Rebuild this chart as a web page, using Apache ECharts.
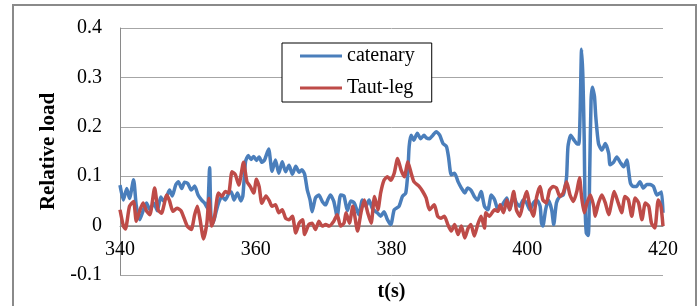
<!DOCTYPE html>
<html>
<head>
<meta charset="utf-8">
<script src="https://cdn.jsdelivr.net/npm/echarts@6/dist/echarts.min.js"></script>
<style>
  html, body { margin: 0; padding: 0; background: #fff; }
  #chart { width: 699px; height: 306px; }
</style>
</head>
<body>
<div id="chart"></div>
<script>
// series names
const seriesNames = ["catenary", "Taut-leg"];

// catenary: [t(s), relative load]
const catenary = [
	[340.0, 0.082], [340.5, 0.052], [341.0, 0.075], [341.4, 0.055], [342.0, 0.093],
	[342.4, 0.040], [342.9, 0.012], [343.4, 0.030], [343.9, 0.046], [344.4, 0.032],
	[345.0, 0.045], [345.5, 0.030], [346.0, 0.058], [346.4, 0.050], [346.9, 0.060],
	[347.3, 0.072], [347.7, 0.060], [348.2, 0.082], [348.6, 0.089], [349.1, 0.075],
	[349.5, 0.088], [350.0, 0.085], [350.5, 0.072], [351.0, 0.080], [351.5, 0.062],
	[352.0, 0.052], [352.5, 0.045], [352.9, 0.035], [353.2, 0.117], [353.4, 0.020],
	[353.7, 0.005], [354.1, 0.025], [354.5, 0.045], [355.0, 0.059], [355.5, 0.052],
	[356.0, 0.064], [356.4, 0.068], [356.8, 0.052], [357.3, 0.066], [357.8, 0.050],
	[358.1, 0.060], [358.5, 0.130], [358.9, 0.142], [359.3, 0.134], [359.7, 0.140],
	[360.1, 0.132], [360.5, 0.139], [360.9, 0.128], [361.3, 0.133], [361.9, 0.155],
	[362.4, 0.110], [362.9, 0.133], [363.4, 0.106], [363.9, 0.129], [364.4, 0.109],
	[364.9, 0.122], [365.4, 0.104], [365.9, 0.120], [366.4, 0.108], [366.8, 0.113],
	[367.2, 0.104], [367.6, 0.072], [368.0, 0.052], [368.3, 0.028], [368.8, 0.056],
	[369.3, 0.062], [369.8, 0.049], [370.3, 0.042], [370.6, 0.052], [371.0, 0.062],
	[371.5, 0.049], [372.0, 0.018], [372.5, 0.062], [373.0, 0.060], [373.5, 0.030],
	[374.0, 0.050], [374.5, 0.046], [375.2, 0.022], [375.7, 0.052], [376.2, 0.039],
	[376.7, 0.052], [377.2, 0.034], [377.9, 0.026], [378.4, 0.019], [378.9, 0.028],
	[379.4, 0.012], [379.9, 0.002], [380.4, 0.032], [381.1, 0.039], [381.6, 0.059],
	[382.1, 0.066], [382.4, 0.106], [382.6, 0.160], [382.9, 0.183], [383.3, 0.173],
	[383.8, 0.187], [384.3, 0.176], [384.8, 0.183], [385.1, 0.178], [385.6, 0.176],
	[386.1, 0.183], [386.6, 0.190], [387.1, 0.183], [387.6, 0.166], [388.1, 0.160],
	[388.4, 0.139], [388.8, 0.103], [389.3, 0.106], [389.8, 0.089], [390.3, 0.076],
	[390.8, 0.066], [391.2, 0.076], [391.7, 0.072], [392.2, 0.059], [392.7, 0.052],
	[393.2, 0.069], [393.7, 0.039], [394.2, 0.032], [394.7, 0.062], [395.2, 0.052],
	[395.7, 0.032], [396.2, 0.039], [397.0, 0.056], [397.4, 0.032], [398.0, 0.059],
	[398.4, 0.046], [398.9, 0.039], [399.4, 0.052], [399.9, 0.046], [400.4, 0.032],
	[400.9, 0.046], [401.4, 0.052], [401.9, 0.039], [402.1, 0.005], [402.3, -0.001],
	[402.7, 0.032], [403.1, 0.052], [403.6, 0.032], [403.9, 0.002], [404.3, 0.046],
	[404.8, 0.059], [405.3, 0.062], [405.5, 0.072], [405.8, 0.099], [406.0, 0.160],
	[406.4, 0.183], [406.9, 0.173], [407.3, 0.166], [407.6, 0.165], [407.8, 0.233],
	[408.0, 0.357], [408.2, 0.300], [408.4, 0.170], [408.5, 0.050], [408.7, -0.015],
	[409.0, -0.020], [409.2, 0.107], [409.4, 0.253], [409.6, 0.280], [409.9, 0.262],
	[410.1, 0.220], [410.5, 0.166], [411.0, 0.153], [411.5, 0.166], [412.0, 0.146],
	[412.2, 0.123], [412.7, 0.128], [413.2, 0.139], [413.7, 0.128], [414.2, 0.119],
	[414.7, 0.133], [414.9, 0.115], [415.2, 0.086], [415.6, 0.079], [416.1, 0.079],
	[416.6, 0.089], [417.1, 0.076], [417.6, 0.083], [418.1, 0.083], [418.6, 0.079],
	[419.1, 0.062], [419.6, 0.066], [419.8, 0.068], [420.0, 0.026]
];

// Taut-leg: [t(s), relative load]
const tautLeg = [
	[340.0, 0.032], [340.5, -0.001], [340.8, -0.007], [341.4, 0.039], [342.0, 0.049],
	[342.4, 0.009], [342.9, 0.030], [343.4, 0.046], [343.9, 0.030], [344.4, 0.022],
	[345.1, 0.076], [345.6, 0.032], [346.1, 0.025], [346.9, 0.062], [347.3, 0.050],
	[347.8, 0.029], [348.4, 0.035], [349.0, 0.030], [349.9, -0.001], [350.5, -0.008],
	[351.0, 0.022], [351.4, 0.039], [351.8, 0.012], [352.3, -0.027], [352.8, 0.005],
	[353.1, 0.055], [353.5, -0.001], [353.9, 0.015], [354.5, 0.066], [355.0, 0.059],
	[355.5, 0.069], [356.0, 0.066], [356.5, 0.109], [357.0, 0.103], [357.5, 0.082],
	[358.2, 0.128], [358.7, 0.089], [359.2, 0.079], [359.7, 0.066], [360.1, 0.094],
	[360.5, 0.079], [360.9, 0.045], [361.5, 0.060], [362.0, 0.050], [362.4, 0.039],
	[362.9, 0.042], [363.4, 0.026], [363.9, 0.032], [364.4, 0.015], [364.9, 0.012],
	[365.4, 0.019], [365.9, -0.015], [366.4, 0.005], [366.9, 0.012], [367.2, -0.018],
	[367.8, 0.002], [368.3, 0.005], [368.8, -0.008], [369.3, 0.009], [369.8, -0.001],
	[370.3, 0.002], [370.8, -0.001], [371.5, 0.009], [372.0, 0.022], [372.5, -0.001],
	[373.0, 0.005], [373.3, 0.026], [373.8, 0.005], [374.3, 0.039], [375.0, -0.011],
	[375.5, 0.026], [376.0, 0.052], [376.5, 0.026], [377.0, 0.005], [377.5, 0.059],
	[378.0, 0.032], [378.4, 0.066], [378.9, 0.092], [379.4, 0.099], [379.9, 0.092],
	[380.4, 0.106], [380.9, 0.136], [381.4, 0.113], [381.9, 0.099], [382.4, 0.129],
	[382.9, 0.106], [383.3, 0.089], [384.1, 0.079], [384.6, 0.069], [385.1, 0.056],
	[385.6, 0.032], [386.3, 0.042], [386.8, 0.019], [387.3, 0.015], [387.8, 0.019],
	[388.3, 0.002], [388.8, -0.011], [389.3, 0.002], [389.8, -0.018], [390.3, -0.001],
	[390.8, -0.025], [391.3, -0.005], [391.7, 0.002], [392.2, -0.021], [392.7, 0.002],
	[393.2, 0.019], [393.7, -0.005], [393.9, 0.026], [394.4, 0.019], [395.2, 0.032],
	[395.7, 0.029], [396.0, 0.042], [396.5, 0.026], [397.0, 0.052], [397.4, 0.032],
	[398.0, 0.069], [398.4, 0.032], [398.9, 0.019], [399.4, 0.046], [399.9, 0.069],
	[400.4, 0.039], [400.9, 0.019], [401.4, 0.059], [401.9, 0.079], [402.3, 0.052],
	[402.8, 0.046], [403.3, 0.072], [403.8, 0.079], [404.3, 0.076], [404.8, 0.059],
	[405.3, 0.066], [405.8, 0.089], [406.3, 0.062], [406.8, 0.049], [407.3, 0.069],
	[407.7, 0.097], [408.0, 0.059], [408.4, 0.026], [408.8, 0.046], [409.3, 0.062],
	[409.8, 0.039], [410.0, 0.019], [410.5, 0.046], [411.0, 0.062], [411.5, 0.046],
	[412.0, 0.022], [412.5, 0.052], [412.8, 0.069], [413.4, 0.046], [413.9, 0.026],
	[414.4, 0.059], [414.9, 0.052], [415.4, 0.019], [415.9, 0.056], [416.4, 0.046],
	[416.9, 0.012], [417.4, 0.046], [417.9, 0.039], [418.3, 0.005], [418.8, -0.005],
	[419.3, 0.052], [419.7, 0.039], [420.0, -0.001]
];

// axis ranges: min, max, interval
const xRange = [340, 420, 20];
const yRange = [-0.1, 0.4, 0.1];

const serif = "Liberation Serif";
const chart = echarts.init(document.getElementById("chart"));

chart.setOption({
	animation: false,
	color: ["#4A7EBB", "#BE4B48"],
	// outer frame of the picture
	graphic: [{
		type: "rect",
		shape: { x: 13, y: 5, width: 683, height: 320 },
		style: { fill: "none", stroke: "#8a8a8a", lineWidth: 2 },
		silent: true
	}],
	// fixed plot box, no auto fitting of labels
	grid: { left: 120, right: 36, top: 28, bottom: 31, outerBoundsMode: "none", containLabel: false },
	legend: {
		orient: "vertical",
		left: 282,
		top: 43,
		padding: [3, 17, 4, 18],
		itemGap: 12,
		itemWidth: 42,
		itemHeight: 20,
		backgroundColor: "#fff",
		borderColor: "#000",
		borderWidth: 1,
		icon: "path://M0,9 L42,9 L42,12 L0,12 Z",
		textStyle: { fontFamily: serif, fontSize: 20, color: "#000", lineHeight: 20 },
		data: seriesNames
	},
	xAxis: {
		type: "value",
		min: xRange[0],
		max: xRange[1],
		interval: xRange[2],
		// x axis sits on y = 0 (49 px above the bottom edge)
		offset: -49,
		name: "t(s)",
		nameLocation: "middle",
		nameGap: 56,
		nameTextStyle: { fontFamily: serif, fontSize: 20, fontWeight: "bold", color: "#000" },
		axisLine: { onZero: false, lineStyle: { color: "#8a8a8a", width: 1 } },
		axisTick: { show: false },
		splitLine: { show: false },
		axisLabel: { fontFamily: serif, fontSize: 20, color: "#000", margin: 14 }
	},
	yAxis: {
		type: "value",
		min: yRange[0],
		max: yRange[1],
		interval: yRange[2],
		name: "Relative load",
		nameLocation: "middle",
		nameGap: 52,
		nameTextStyle: { fontFamily: serif, fontSize: 21, fontWeight: "bold", color: "#000" },
		axisLine: { show: true, lineStyle: { color: "#8a8a8a", width: 1 } },
		axisTick: { show: false },
		splitLine: { lineStyle: { color: "#a6a6a6", width: 1 } },
		axisLabel: {
			fontFamily: serif, fontSize: 20, color: "#000", margin: 18,
			formatter: (v) => String(+v.toFixed(1))
		}
	},
	series: [
		{
			name: seriesNames[0],
			type: "line",
			data: catenary,
			showSymbol: false,
			smooth: 0.2,
			lineStyle: { width: 3.5 }
		},
		{
			name: seriesNames[1],
			type: "line",
			data: tautLeg,
			showSymbol: false,
			smooth: 0.2,
			lineStyle: { width: 3.5 }
		}
	]
});
</script>
</body>
</html>
